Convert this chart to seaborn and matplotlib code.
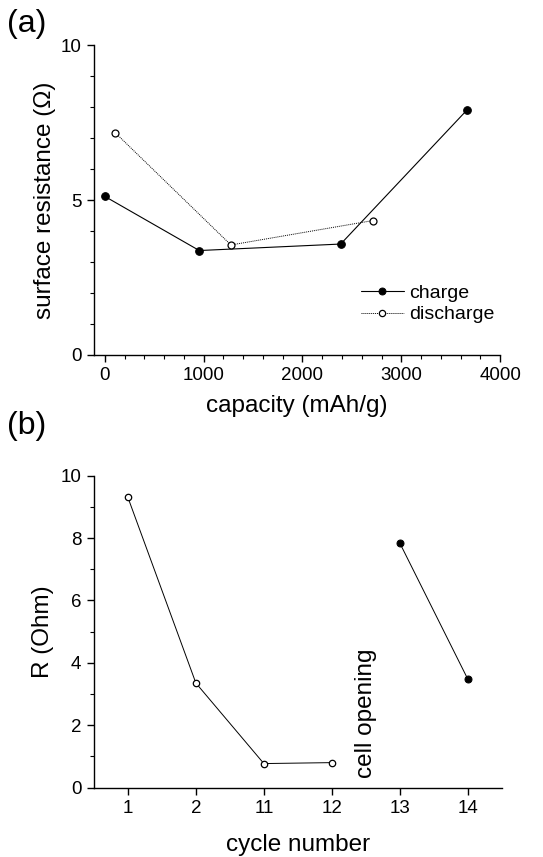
import pandas as pd
import matplotlib
matplotlib.use("Agg")
import matplotlib.pyplot as plt
from matplotlib.ticker import MultipleLocator
import seaborn as sns

# panel (a): surface resistance vs capacity
charge_capacity = [0, 956, 2387, 3667]
charge_resistance = [5.12, 3.37, 3.58, 7.92]
discharge_capacity = [108, 1276, 2714]
discharge_resistance = [7.17, 3.55, 4.34]

# panel (b): resistance vs cycle number
cycles_before = ["1", "2", "11", "12"]
r_before = [9.3, 3.35, 0.77, 0.80]
cycles_after = ["13", "14"]
r_after = [7.84, 3.48]

sns.set_style("ticks")
plt.rcParams["font.family"] = ["Liberation Sans", "DejaVu Sans"]
plt.rcParams["text.color"] = "black"
plt.rcParams["axes.labelcolor"] = "black"
plt.rcParams["xtick.color"] = "black"
plt.rcParams["ytick.color"] = "black"

fig = plt.figure(figsize=(5.43, 8.57), dpi=100)
ax1 = fig.add_axes([0.173, 0.586, 0.748, 0.361])
ax2 = fig.add_axes([0.173, 0.081, 0.751, 0.364])

df_charge = pd.DataFrame({"capacity": charge_capacity, "R": charge_resistance})
df_dis = pd.DataFrame({"capacity": discharge_capacity, "R": discharge_resistance})

sns.lineplot(data=df_charge, x="capacity", y="R", ax=ax1, color="black", lw=0.8,
             marker="o", markersize=5.5, markerfacecolor="black", markeredgecolor="black",
             label="charge", sort=False)
sns.lineplot(data=df_dis, x="capacity", y="R", ax=ax1, color="black", lw=0.7,
             linestyle=(0, (1, 1)), marker="o", markersize=5, markerfacecolor="white",
             markeredgecolor="black", markeredgewidth=0.9, label="discharge", sort=False)

ax1.set_xlim(-110, 4000)
ax1.set_ylim(0, 10)
ax1.xaxis.set_major_locator(MultipleLocator(1000))
ax1.xaxis.set_minor_locator(MultipleLocator(200))
ax1.yaxis.set_major_locator(MultipleLocator(5))
ax1.yaxis.set_minor_locator(MultipleLocator(1))
ax1.set_xlabel("capacity (mAh/g)", fontsize=17.5, labelpad=8)
ax1.set_ylabel("surface resistance (\u03a9)", fontsize=17.5, labelpad=3)
leg = ax1.legend(loc="lower right", bbox_to_anchor=(1.03, 0.045), frameon=False,
                 fontsize=14, handlelength=2.2, handletextpad=0.3, labelspacing=0.2,
                 markerscale=0.9)

df_before = pd.DataFrame({"cycle": cycles_before, "R": r_before})
df_after = pd.DataFrame({"cycle": cycles_after, "R": r_after})
sns.lineplot(data=df_before, x="cycle", y="R", ax=ax2, color="black", lw=0.7,
             marker="o", markersize=4.6, markerfacecolor="white", markeredgecolor="black",
             markeredgewidth=0.9, sort=False)
sns.lineplot(data=df_after, x="cycle", y="R", ax=ax2, color="black", lw=0.7,
             marker="o", markersize=5, markerfacecolor="black", markeredgecolor="black",
             sort=False)

ax2.set_xlim(-0.5, 5.5)
ax2.set_ylim(0, 10)
ax2.yaxis.set_major_locator(MultipleLocator(2))
ax2.yaxis.set_minor_locator(MultipleLocator(1))
ax2.set_xlabel("cycle number", fontsize=17.5, labelpad=12)
ax2.set_ylabel("R (Ohm)", fontsize=17.5, labelpad=5)
ax2.text(3.5, 0.3, "cell opening", rotation=90, ha="center", va="bottom", fontsize=17.5)

for ax in (ax1, ax2):
    sns.despine(ax=ax)
    ax.tick_params(axis="both", which="major", direction="out", length=5, width=1,
                   labelsize=13.5, color="black", pad=4)
    ax.tick_params(axis="both", which="minor", direction="out", length=3, width=0.8,
                   color="black")
    for s in ("left", "bottom"):
        ax.spines[s].set_linewidth(1.0)
        ax.spines[s].set_color("black")
ax2.tick_params(axis="x", which="minor", length=0)

fig.text(0.012, 0.99, "(a)", fontsize=23, va="top", ha="left")
fig.text(0.012, 0.52, "(b)", fontsize=23, va="top", ha="left")

fig.savefig("out.png", dpi=100)
